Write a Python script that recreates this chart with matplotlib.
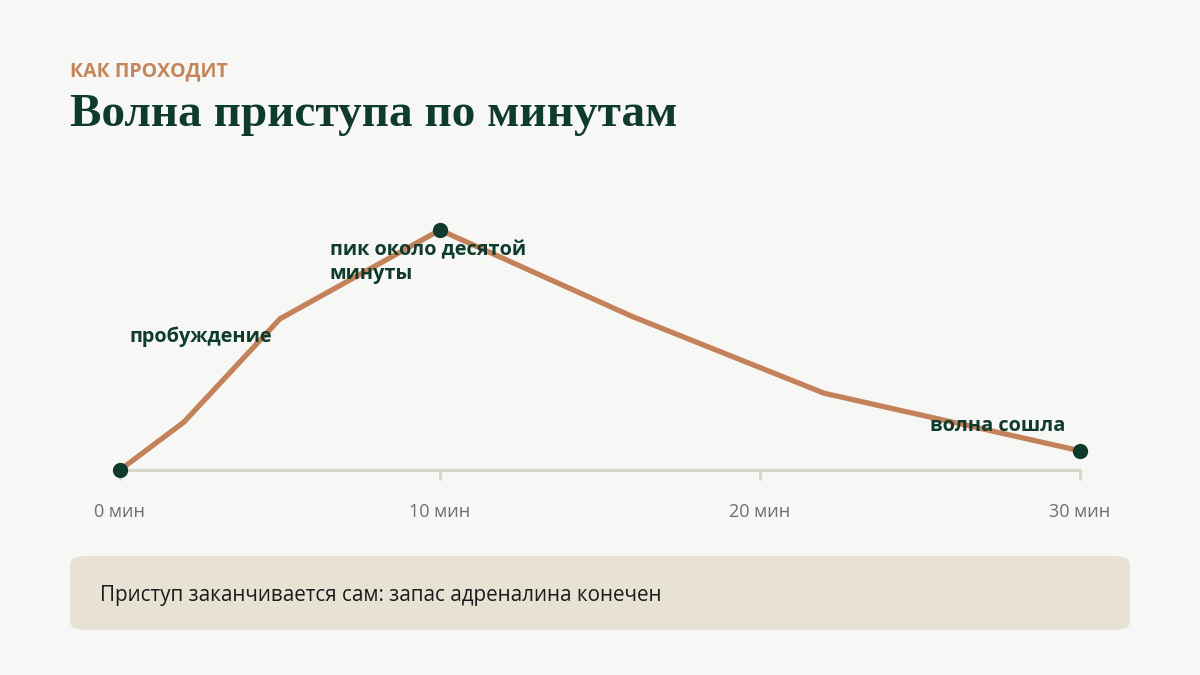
import matplotlib
matplotlib.use("Agg")
import matplotlib.pyplot as plt
from matplotlib.patches import FancyBboxPatch

# data
minutes = [0, 2, 5, 10, 16, 22, 30]
level = [0, 20, 63, 100, 64, 32, 8]
dot_minutes = [0, 10, 30]
dot_level = [0, 100, 8]
tick_pos = [0, 10, 20, 30]
tick_labels = ["0 мин", "10 мин", "20 мин", "30 мин"]
notes = [("пробуждение", 0.3, 55.5), ("пик около десятой\nминуты", 6.55, 86.5), ("волна сошла", 25.3, 18.3)]

BG = "#f7f7f5"
LINE = "#c4825a"
DARK = "#0f3b2c"
AXIS = "#d9d5c8"

plt.rcParams["font.family"] = ["Open Sans", "DejaVu Sans"]

fig = plt.figure(figsize=(12, 6.75), dpi=100, facecolor=BG)

fig.text(70 / 1200, 1 - 71 / 675, "КАК ПРОХОДИТ", color="#c4855a", fontsize=14,
         fontweight="bold", va="center", ha="left")
fig.text(70 / 1200, 1 - 115 / 675, "Волна приступа по минутам", color=DARK, fontsize=34,
         fontweight="bold", family=["Liberation Serif"], va="center", ha="left")

ax = fig.add_axes([120 / 1200, 1 - 470 / 675, 960 / 1200, 270 / 675])
ax.set_facecolor(BG)
ax.set_xlim(0, 30)
ax.set_ylim(0, 112.5)

ax.plot(minutes, level, color=LINE, lw=3.8, solid_joinstyle="miter", zorder=2)
ax.plot(dot_minutes, dot_level, "o", color=DARK, ms=10, zorder=3, clip_on=False)

# labels are drawn on top of the line
for txt, x, y in notes:
    ax.text(x, y, txt, color=DARK, fontsize=14.3, fontweight="bold", va="center",
            ha="left", linespacing=1.25, zorder=4)

for s in ["top", "right", "left"]:
    ax.spines[s].set_visible(False)
ax.spines["bottom"].set_color(AXIS)
ax.spines["bottom"].set_linewidth(2.2)
ax.spines["bottom"].set_zorder(1)
ax.set_yticks([])
ax.set_xticks(tick_pos)
ax.set_xticklabels(tick_labels)
ax.tick_params(axis="x", length=7, width=2.2, color=AXIS, labelcolor="#6e6e6e",
               labelsize=13, pad=17)

box = FancyBboxPatch((70 / 1200, 1 - 630 / 675), 1060 / 1200, 74 / 675,
                     boxstyle="round,pad=0,rounding_size=0.013",
                     transform=fig.transFigure, facecolor="#e8e2d5", edgecolor="none")
fig.patches.append(box)
fig.text(100 / 1200, 1 - 596 / 675, "Приступ заканчивается сам: запас адреналина конечен",
         color="#1a1a1a", fontsize=14.9, va="center", ha="left")

fig.savefig("out.png", dpi=100, facecolor=BG)
